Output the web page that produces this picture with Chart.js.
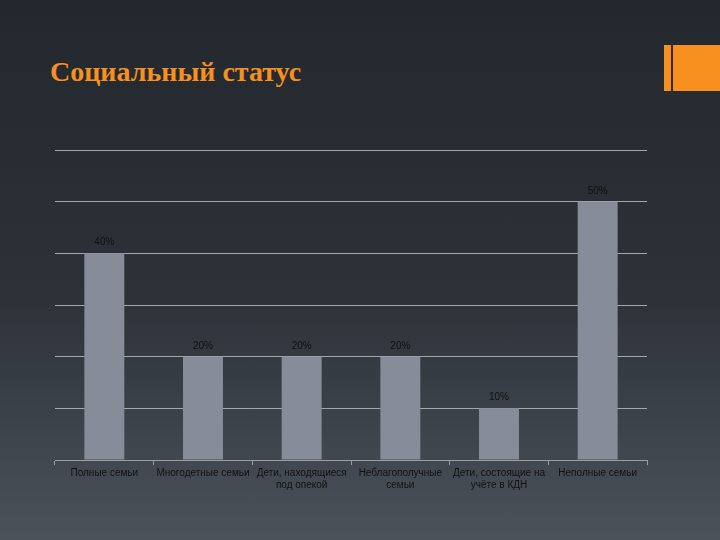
<!DOCTYPE html>
<html>
<head>
<meta charset="utf-8">
<script src="https://cdn.jsdelivr.net/npm/chart.js@4"></script>
<style>
  body { margin: 0; width: 720px; height: 540px; overflow: hidden;
         background: linear-gradient(to bottom, #22282e 0%, #2c3238 55%, #4c525a 100%); position: relative; }
  #title { position: absolute; left: 50px; top: 56px; font: bold 28px "Liberation Serif", serif; color: #f7901e; }
  #deco { position: absolute; left: 664px; top: 45px; width: 56px; height: 46px; background: #f7901e; }
  #deco div { position: absolute; left: 7px; top: 0; width: 2px; height: 46px; background: #2a2e33; }
  #c { position: absolute; left: 0; top: 0; }
</style>
</head>
<body>
<div id="title">Социальный статус</div>
<div id="deco"><div></div></div>
<canvas id="c" width="720" height="540"></canvas>
<script>
// ===== data
const categories = [
    ["Полные семьи"],
    ["Многодетные семьи"],
    ["Дети, находящиеся", "под опекой"],
    ["Неблагополучные", "семьи"],
    ["Дети, состоящие на", "учёте в КДН"],
    ["Неполные семьи"],
];
const values = [40, 20, 20, 20, 10, 50];

// подписи над столбцами
const barLabels = {
    id: "barLabels",
    afterDatasetsDraw(chart) {
        const ctx = chart.ctx;
        ctx.save();
        ctx.font = "10px 'Liberation Sans', Arial";
        ctx.fillStyle = "#111";
        ctx.textAlign = "center";
        chart.getDatasetMeta(0).data.forEach((bar, i) => {
            ctx.fillText(values[i] + "%", bar.x, bar.y - 8);
        });
        ctx.restore();
    },
};

new Chart(document.getElementById("c"), {
    type: "bar",
    data: {
        labels: categories,
        datasets: [{ data: values, backgroundColor: "#868d98", categoryPercentage: 1, barPercentage: 0.405 }],
    },
    options: {
        responsive: false,
        animation: false,
        layout: { padding: { left: 55, right: 73, top: 150, bottom: 0 } },
        plugins: { legend: { display: false }, tooltip: { enabled: false } },
        scales: {
            x: {
                grid: { drawOnChartArea: false, color: "#9a9ea4", tickLength: 5 },
                border: { color: "#9a9ea4" },
                ticks: { color: "#111", font: { size: 10, family: "'Liberation Sans', Arial" }, maxRotation: 0, padding: 2 },
                afterFit: (s) => { s.height = 80; },
            },
            y: {
                min: 0, max: 60,
                ticks: { display: false, stepSize: 10 },
                grid: { color: "#a4a8ad", drawTicks: false },
                border: { display: false },
                afterFit: (s) => { s.width = 0; },
            },
        },
    },
    plugins: [barLabels],
});
</script>
</body>
</html>
